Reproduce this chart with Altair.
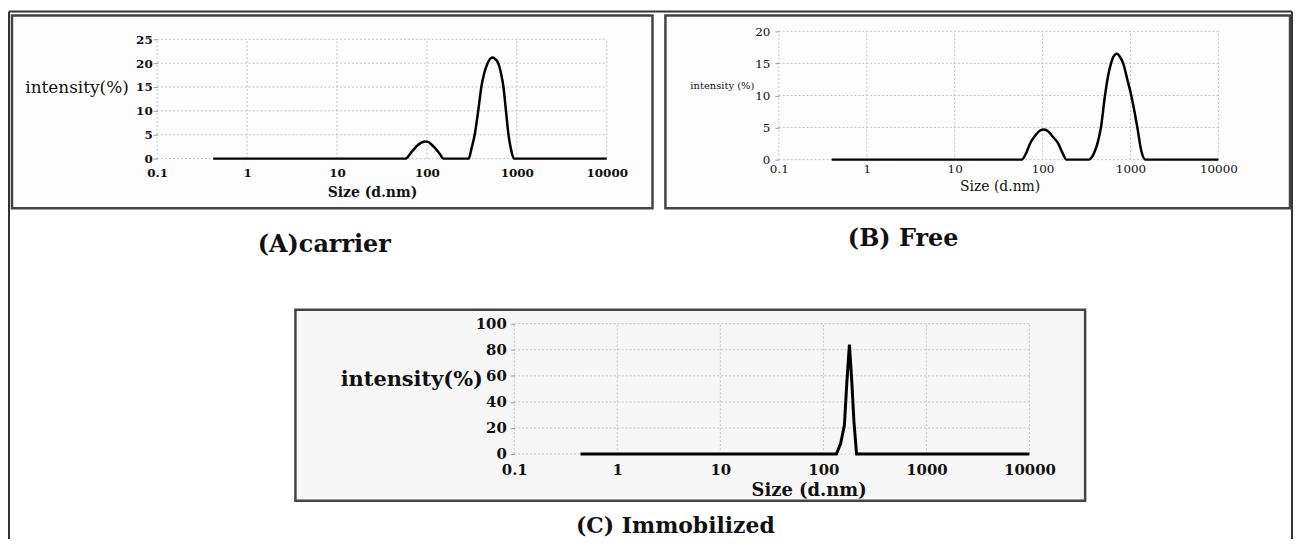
import altair as alt
import pandas as pd

# ---------------- data ----------------
A_size = [0.42, 58, 65, 72, 80, 88, 95, 103, 113, 126, 140, 153,
          292, 312, 340, 372, 403, 435, 473, 510, 543, 580, 620, 665, 710, 757, 808, 860, 927, 10000]
A_int = [0, 0, 1.0, 2.0, 2.9, 3.4, 3.6, 3.5, 2.9, 2.0, 0.9, 0,
         0, 2.0, 5.0, 10.0, 15.0, 18.0, 20.0, 21.0, 21.2, 20.8, 20.0, 18.0, 15.0, 10.0, 5.0, 2.0, 0, 0]

B_size = [0.4, 58, 65, 72, 82, 93, 104, 116, 130, 151, 168, 187,
          335, 393, 430, 461, 513, 555, 601, 650, 705, 760, 826, 920, 1021, 1110, 1197, 1331, 1480, 10000]
B_int = [0, 0, 1.0, 2.5, 3.7, 4.5, 4.7, 4.4, 3.6, 2.5, 1.1, 0,
         0, 1.3, 3.0, 5.0, 10.0, 13.0, 15.0, 16.2, 16.5, 16.0, 15.0, 12.5, 10.0, 7.5, 5.0, 1.3, 0, 0]

C_size = [0.44, 134, 147, 160, 169, 179, 189, 198, 210, 10000]
C_int = [0, 0, 8, 22, 55, 84, 55, 25, 0, 0]

X_TICKS = [0.1, 1, 10, 100, 1000, 10000]
A_YTICKS = [0, 5, 10, 15, 20, 25]
B_YTICKS = [0, 5, 10, 15, 20]
C_YTICKS = [0, 20, 40, 60, 80, 100]

PANEL_TITLES = ["(A)carrier", "(B) Free", "(C)  Immobilized"]
X_TITLE = "Size (d.nm)"
Y_TITLES = ["intensity(%)", "intensity (%)", "intensity(%)"]

SERIF = "DejaVu Serif"
W, H = 1142, 509
GRID_COLOR = "#c4c4c4"
BOX_COLOR = "#444444"


def one_row():
    return pd.DataFrame({"k": [0]})


def panel(size, inten, yticks, xrange, yrange, xaxis, yaxis, box, box_fill,
          title, tpos, tstyle, line_style):
    xs = alt.Scale(type="log", domain=[X_TICKS[0], X_TICKS[-1]], range=xrange)
    ys = alt.Scale(domain=[yticks[0], yticks[-1]], range=yrange, nice=False, zero=False)

    box_layer = alt.Chart(one_row()).mark_rect(
        fill=box_fill, stroke=BOX_COLOR, strokeWidth=2.5
    ).encode(x=alt.value(box[0]), x2=alt.value(box[1]),
             y=alt.value(box[2]), y2=alt.value(box[3]))

    vdf = pd.DataFrame({"gx": X_TICKS,
                        "y0": [yticks[0]] * len(X_TICKS),
                        "y1": [yticks[-1]] * len(X_TICKS)})
    hdf = pd.DataFrame({"gy": yticks,
                        "x0": [X_TICKS[0]] * len(yticks),
                        "x1": [X_TICKS[-1]] * len(yticks)})
    vgrid = alt.Chart(vdf).mark_rule(color=GRID_COLOR, strokeDash=[2, 2], strokeWidth=1).encode(
        x=alt.X("gx:Q", scale=xs, axis=None),
        y=alt.Y("y0:Q", scale=ys, axis=None), y2="y1:Q")
    hgrid = alt.Chart(hdf).mark_rule(color=GRID_COLOR, strokeDash=[2, 2], strokeWidth=1).encode(
        y=alt.Y("gy:Q", scale=ys, axis=None),
        x=alt.X("x0:Q", scale=xs, axis=None), x2="x1:Q")

    curve = alt.Chart(pd.DataFrame({"size": size, "intensity": inten})).mark_line(
        color="black", **line_style
    ).encode(x=alt.X("size:Q", scale=xs, axis=xaxis),
             y=alt.Y("intensity:Q", scale=ys, axis=yaxis))

    title_layer = alt.Chart(pd.DataFrame({"t": [title]})).mark_text(
        font=SERIF, color="#111111", align="center", **tstyle
    ).encode(x=alt.value(tpos[0]), y=alt.value(tpos[1]), text="t:N")

    return [box_layer, vgrid, hgrid, curve, title_layer]


def xaxis(offset, lsize, lweight, lpad, tsize, tweight, tx, ty):
    return alt.Axis(values=X_TICKS, format="~g", orient="bottom", offset=offset,
                    grid=False, domain=False, ticks=False, zindex=2,
                    labelFont=SERIF, labelFontSize=lsize, labelFontWeight=lweight,
                    labelColor="#111111", labelPadding=lpad, labelFlush=False,
                    labelOverlap=False, labelBound=False,
                    title=X_TITLE, titleFont=SERIF, titleFontSize=tsize,
                    titleFontWeight=tweight, titleColor="#111111",
                    titleX=tx, titleY=ty, titleAlign="center", titleBaseline="middle")


def yaxis(values, offset, lsize, lweight, lpad, title, tsize, tweight, tx, ty):
    return alt.Axis(values=values, orient="left", offset=offset,
                    grid=False, domain=False, ticks=True, tickSize=4, zindex=2,
                    tickColor="#9a9a9a", tickWidth=1,
                    labelFont=SERIF, labelFontSize=lsize, labelFontWeight=lweight,
                    labelColor="#111111", labelPadding=lpad, labelOverlap=False,
                    labelBound=False,
                    title=title, titleFont=SERIF, titleFontSize=tsize,
                    titleFontWeight=tweight, titleColor="#111111", titleAngle=0,
                    titleX=tx, titleY=ty, titleAlign="right", titleBaseline="middle")


pA = panel(A_size, A_int, A_YTICKS, [0, 452], [128, 8],
           xaxis(-381, 12, "bold", 9, 14, "bold", 216, 34),
           yaxis(A_YTICKS, 0, 12, "bold", 1, Y_TITLES[0], 17, "normal", -29, 57),
           [-146, 498, -16, 178], "#fdfdfd",
           PANEL_TITLES[0], (168, 215), dict(fontSize=24, fontWeight="bold", baseline="middle"),
           dict(strokeWidth=2.5, interpolate="monotone"))

pB = panel(B_size, B_int, B_YTICKS, [625, 1067], [129, 0],
           xaxis(-380, 12, "normal", 4, 14, "normal", 847, 27),
           yaxis(B_YTICKS, -625, 12, "normal", 5, Y_TITLES[1], 10, "normal", -25, 54),
           [511, 1139, -16, 178], "#fdfdfd",
           PANEL_TITLES[1], (750, 209), dict(fontSize=24, fontWeight="bold", baseline="middle"),
           dict(strokeWidth=2.5, interpolate="monotone"))

pC = panel(C_size, C_int, C_YTICKS, [359, 877], [425, 294],
           xaxis(-84, 15, "bold", 9, 18, "bold", 655, 37),
           yaxis(C_YTICKS, -359, 15, "bold", 4, Y_TITLES[2], 21, "bold", -32, 350),
           [139, 933, 280, 472], "#f7f7f7",
           PANEL_TITLES[2], (521, 504), dict(fontSize=22, fontWeight="bold", baseline="alphabetic"),
           dict(strokeWidth=3, interpolate="linear"))

frame_top = alt.Chart(one_row()).mark_rule(color="#333333", strokeWidth=2).encode(
    x=alt.value(-149), x2=alt.value(1141), y=alt.value(-20))
frame_left = alt.Chart(one_row()).mark_rule(color="#333333", strokeWidth=2).encode(
    x=alt.value(-149), y=alt.value(-20), y2=alt.value(560))
frame_right = alt.Chart(one_row()).mark_rule(color="#333333", strokeWidth=2).encode(
    x=alt.value(1141), y=alt.value(-20), y2=alt.value(560))

layers = [frame_top, frame_left, frame_right] + pA + pB + pC

chart = alt.layer(*layers).resolve_scale(
    x="independent", y="independent"
).resolve_axis(
    x="independent", y="independent"
).properties(
    width=W, height=H,
    padding={"left": 150, "top": 22, "right": 0, "bottom": 0},
    autosize=alt.AutoSizeParams(type="none"),
    background="white",
).configure_view(stroke=None)

chart.save("out.html", embed_options={"renderer": "svg", "actions": False})
